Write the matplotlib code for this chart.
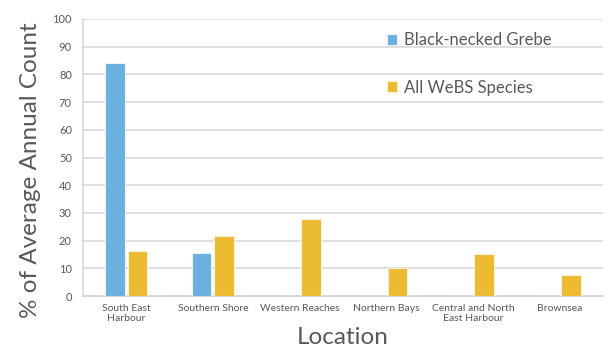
import numpy as np
import matplotlib.pyplot as plt

plt.rcParams.update({"font.family": ["Lato", "DejaVu Sans"]})

# Datos
locations = [
    "South East\nHarbour",
    "Southern Shore",
    "Western Reaches",
    "Northern Bays",
    "Central and North\nEast Harbour",
    "Brownsea",
]
grebe = [84.0, 15.6, 0, 0, 0, 0]
webs = [16.4, 21.8, 27.9, 10.2, 15.2, 7.7]

c_grebe = "#6AB1DD"
c_webs = "#EBBB32"
gris = "#595959"

fig = plt.figure(figsize=(6.08, 3.58), dpi=100)
ax = fig.add_axes([0.1365, 0.173, 0.855, 0.774])

x = np.arange(len(locations))
w = 0.225
ax.bar(x - 0.13, grebe, w, color=c_grebe, edgecolor="#E8F2F8", linewidth=0.8,
       label="Black-necked Grebe", zorder=3)
ax.bar(x + 0.13, webs, w, color=c_webs, edgecolor="#FBF1D2", linewidth=0.8,
       label="All WeBS Species", zorder=3)

ax.set_xlim(-0.5, len(locations) - 0.5)
ax.set_ylim(0, 100)
ax.set_yticks(range(0, 101, 10))
ax.set_xticks(x)
ax.set_xticklabels(locations, fontsize=7.5, color=gris, linespacing=1.1)
ax.tick_params(axis="y", labelsize=8, colors=gris, length=0, pad=8)
ax.tick_params(axis="x", length=0, pad=6)
ax.grid(axis="y", color="#D9D9D9", linewidth=1.2, zorder=0)

for s in ["top", "right"]:
    ax.spines[s].set_visible(False)
ax.spines["left"].set_color("#D9D9D9")
ax.spines["bottom"].set_color("#D9D9D9")
ax.spines["left"].set_linewidth(1.2)
ax.spines["bottom"].set_linewidth(1.5)

ax.set_ylabel("% of Average Annual Count", fontsize=17.5, color=gris)
ax.yaxis.set_label_coords(-0.08, 0.455)
ax.set_xlabel("Location", fontsize=17.5, color=gris, labelpad=3)

ax.legend(loc="upper left", bbox_to_anchor=(0.555, 1.007), frameon=False,
          fontsize=12, labelcolor=gris, handlelength=0.65, handleheight=0.65,
          handletextpad=0.4, labelspacing=1.9)

fig.savefig("out.png", dpi=100)
